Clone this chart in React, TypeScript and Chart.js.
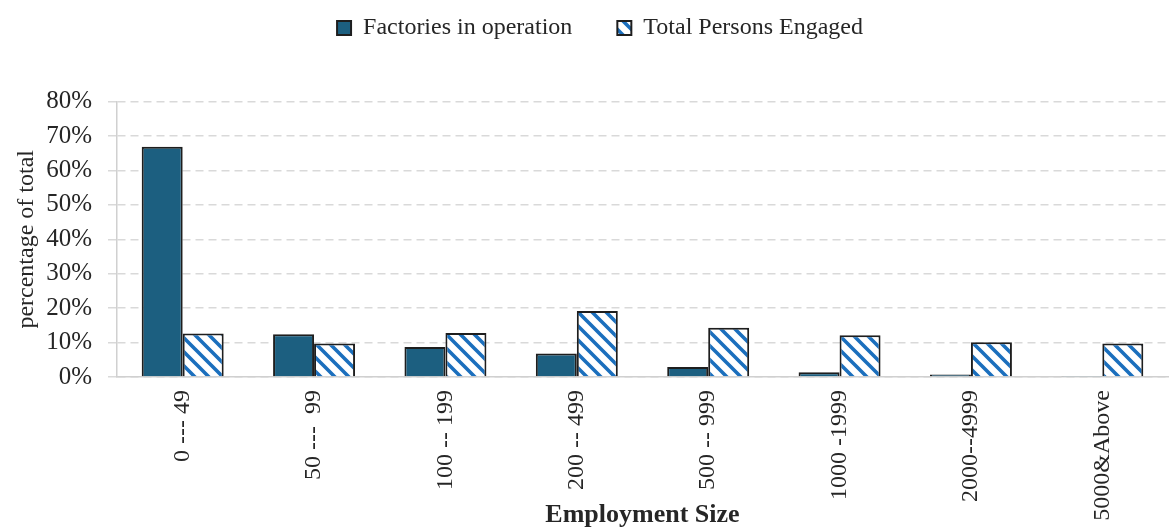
import { useEffect, useRef } from 'react';
import { Chart, registerables } from 'chart.js';

Chart.register(...registerables);

const categories = ['0 --- 49', '50 ---  99', '100 -- 199', '200 -- 499', '500 -- 999', '1000 -1999', '2000--4999', '5000&Above'];
const factoriesInOperation = [66.9, 12.4, 8.7, 6.8, 2.9, 1.4, 0.7, 0.3];
const totalPersonsEngaged = [12.6, 9.7, 12.8, 19.2, 14.3, 12.1, 10.1, 9.7];
const yTicks = [0, 10, 20, 30, 40, 50, 60, 70, 80];

const SERIF = '"Liberation Serif", "Times New Roman", serif';

function makeStripePattern(): CanvasPattern | string {
  const size = 14;
  const c = document.createElement('canvas');
  c.width = size;
  c.height = size;
  const g = c.getContext('2d');
  if (!g) return '#1b6fbd';
  g.fillStyle = '#ffffff';
  g.fillRect(0, 0, size, size);
  g.strokeStyle = '#1b6fbd';
  g.lineWidth = 3.6;
  g.beginPath();
  for (let k = -1; k <= 1; k++) {
    g.moveTo(-size, -size + k * size);
    g.lineTo(2 * size, 2 * size + k * size);
  }
  g.stroke();
  const p = g.createPattern(c, 'repeat');
  return p || '#1b6fbd';
}

const legendSpacer = {
  id: 'legendSpacer',
  beforeInit(chart: any) {
    const legend = chart.legend;
    if (!legend) return;
    const origFit = legend.fit;
    legend.fit = function () {
      origFit.call(this);
      this.height += 51.6;
    };
  },
  afterLayout(chart: any) {
    const legend = chart.legend;
    if (!legend) return;
    legend.left += 16;
    legend.right += 16;
  },
};

export default function App() {
  const canvasRef = useRef<HTMLCanvasElement | null>(null);

  useEffect(() => {
    document.body.style.margin = '0';
    const canvas = canvasRef.current;
    if (!canvas) return;
    const stripes = makeStripePattern();
    const chart = new Chart(canvas, {
      type: 'bar',
      data: {
        labels: categories,
        datasets: [
          {
            label: 'Factories in operation',
            data: factoriesInOperation,
            backgroundColor: '#1c5f80',
            borderColor: '#1e1e1e',
            borderWidth: 2,
            categoryPercentage: 0.624,
            barPercentage: 1,
          },
          {
            label: 'Total Persons Engaged',
            data: totalPersonsEngaged,
            backgroundColor: stripes as any,
            borderColor: '#1e1e1e',
            borderWidth: 2,
            categoryPercentage: 0.624,
            barPercentage: 1,
          },
        ],
      },
      options: {
        responsive: true,
        maintainAspectRatio: false,
        animation: false,
        layout: { padding: { top: -29, right: 3, left: 0, bottom: 0 } },
        plugins: {
          tooltip: { enabled: false },
          legend: {
            position: 'top',
            labels: {
              boxWidth: 14,
              boxHeight: 14,
              padding: 45,
              color: '#262626',
              font: { family: SERIF, size: 24 },
            },
          },
        },
        scales: {
          x: {
            grid: { display: true, drawOnChartArea: false, drawTicks: false },
            border: { display: true, color: '#d0d0d0', width: 1.5 },
            ticks: {
              autoSkip: false,
              minRotation: 90,
              maxRotation: 90,
              padding: 13,
              color: '#262626',
              font: { family: SERIF, size: 24 },
            },
            title: {
              display: true,
              text: 'Employment Size',
              color: '#262626',
              font: { family: SERIF, size: 26, weight: 'bold' },
              padding: { top: 0, bottom: 0 },
            },
            afterFit(scale: any) {
              scale.height = 154;
            },
          },
          y: {
            min: 0,
            max: 80,
            afterBuildTicks(scale: any) {
              scale.ticks = yTicks.map((v) => ({ value: v }));
            },
            grid: {
              color: '#d9d9d9',
              lineWidth: 1.5,
              drawTicks: true,
              tickLength: 9,
              tickColor: '#d9d9d9',
              tickBorderDash: [8, 5],
            },
            border: { display: true, color: '#d0d0d0', width: 1.5, dash: [8, 5] },
            ticks: {
              padding: 16,
              color: '#262626',
              font: { family: SERIF, size: 25 },
              callback: (v: any) => `${v}%`,
            },
            title: {
              display: true,
              text: 'percentage of total',
              color: '#262626',
              font: { family: SERIF, size: 24 },
              padding: { top: 12, bottom: 0 },
            },
            afterFit(scale: any) {
              scale.width = 117;
            },
          },
        },
      },
      plugins: [legendSpacer],
    });
    return () => chart.destroy();
  }, []);

  return (
    <div style={{ width: 1171, height: 531, position: 'relative' }}>
      <canvas ref={canvasRef} />
    </div>
  );
}
